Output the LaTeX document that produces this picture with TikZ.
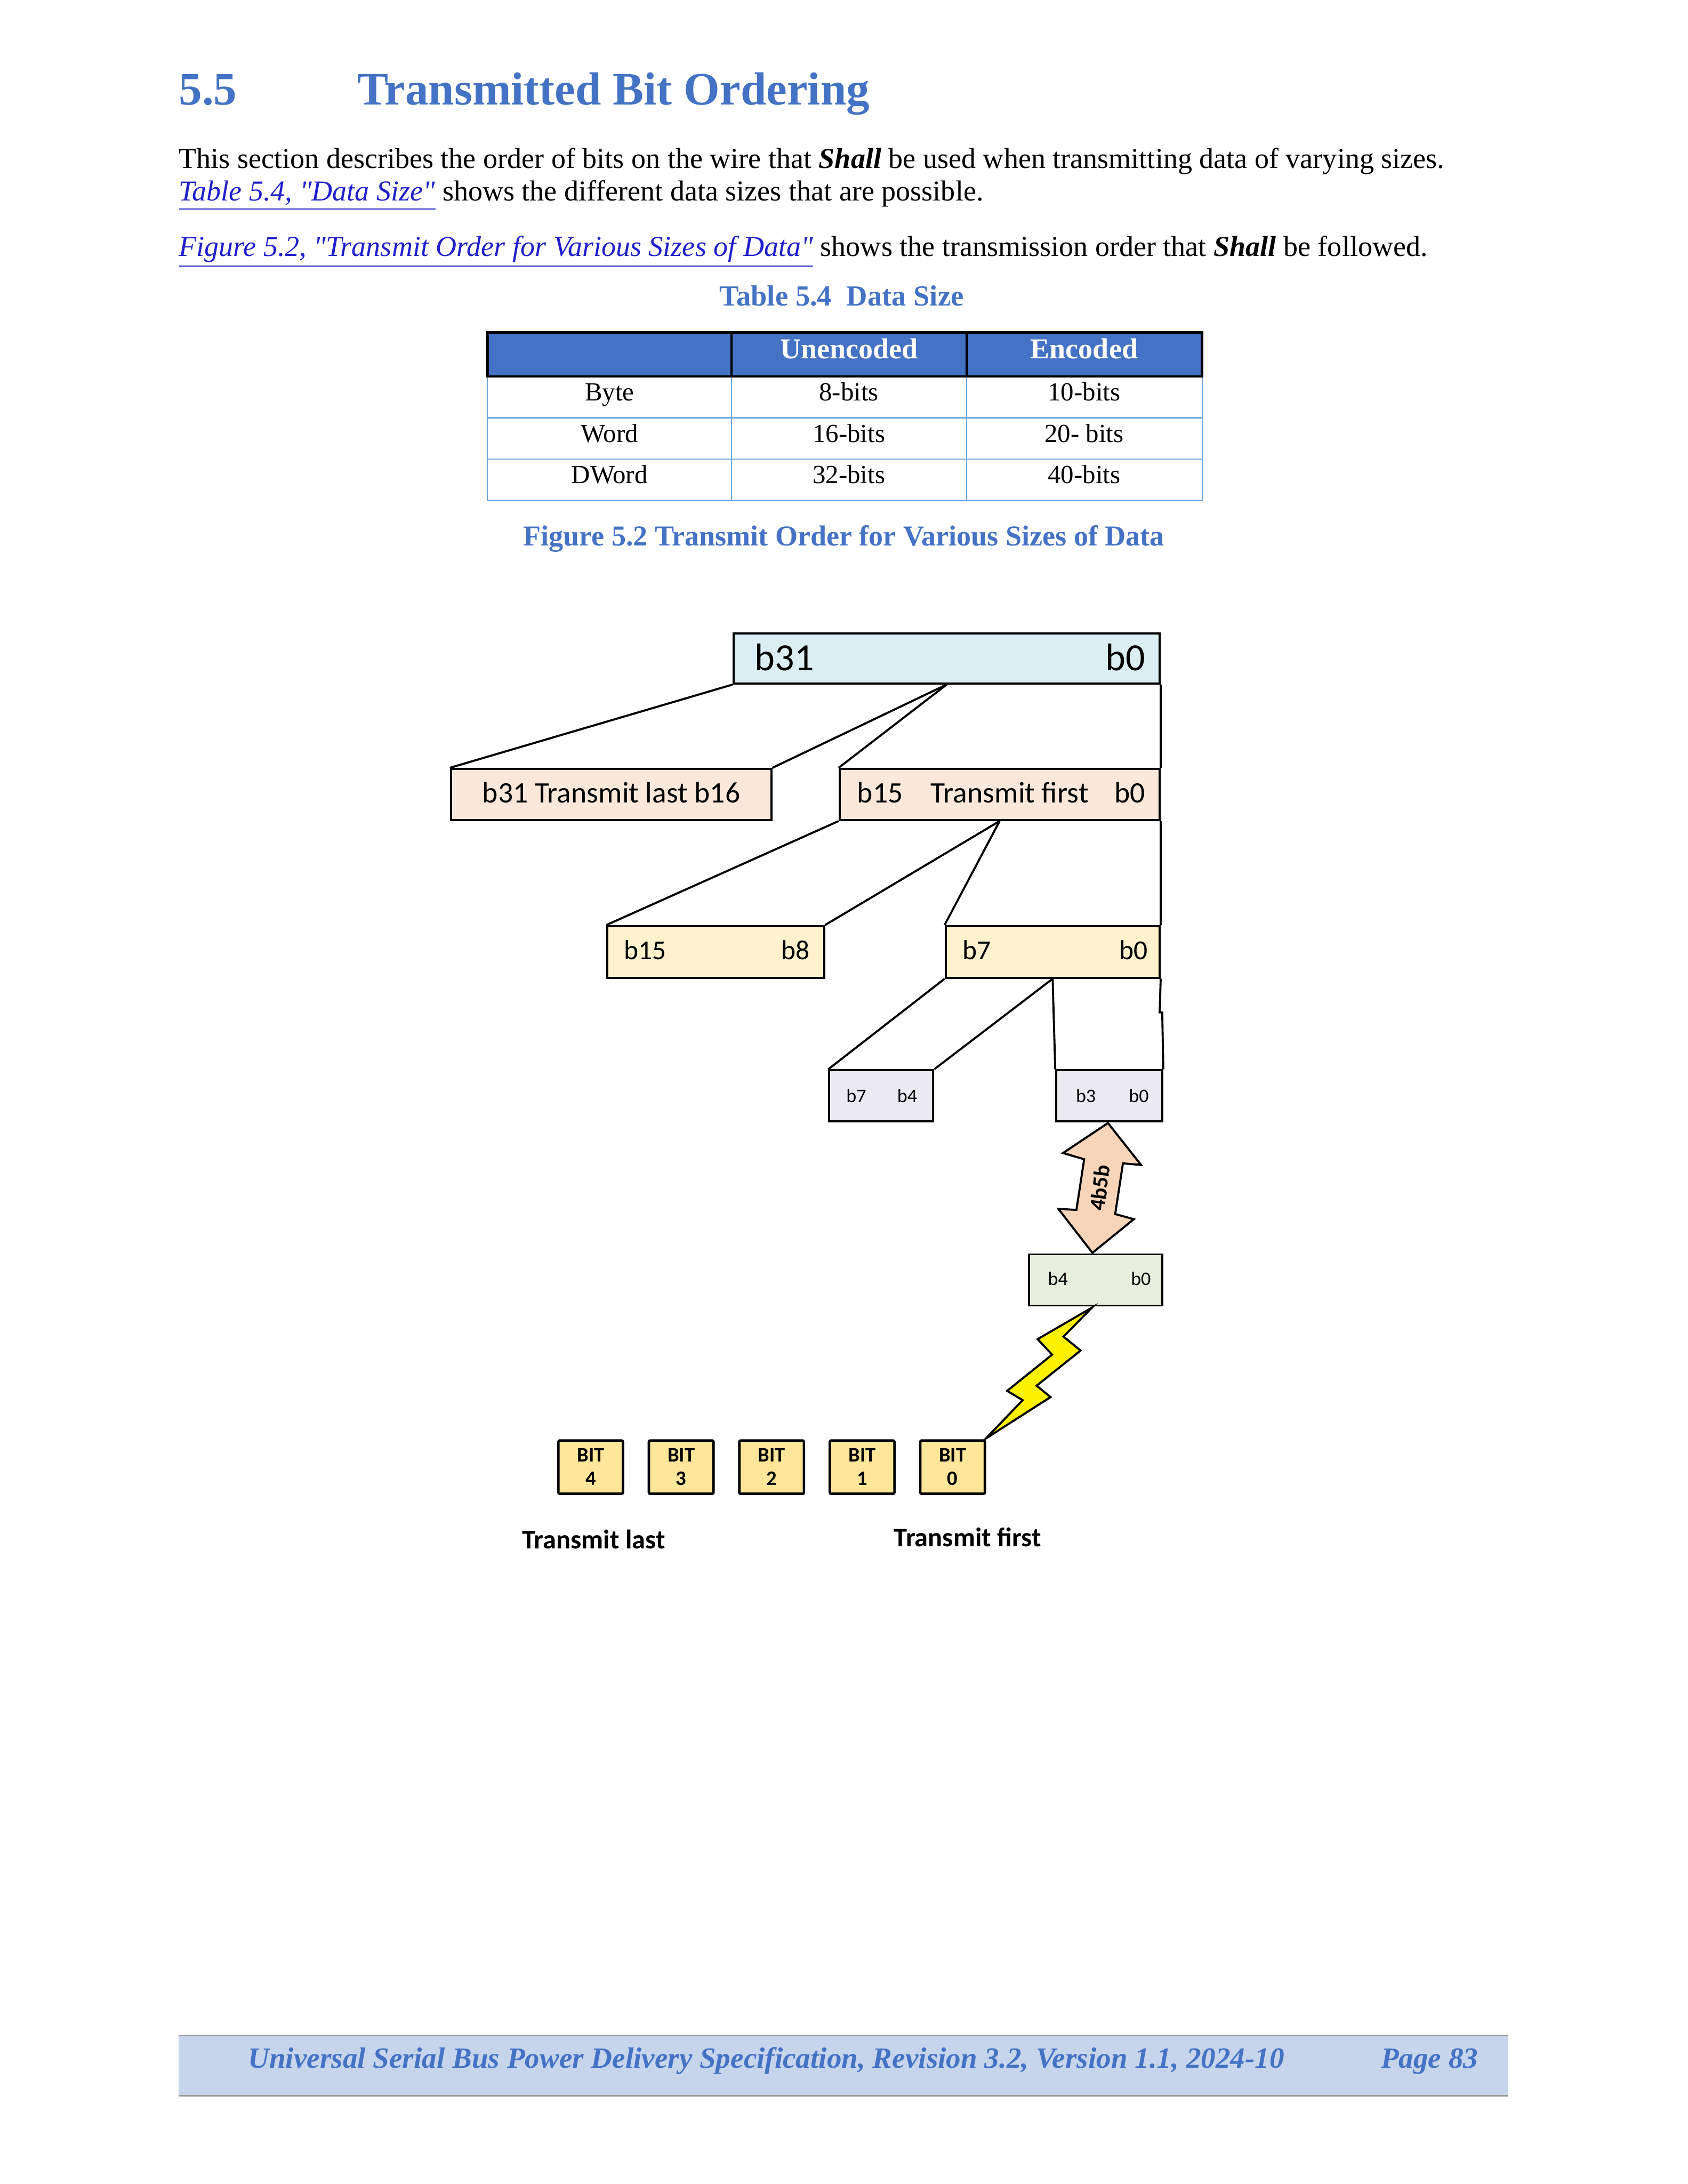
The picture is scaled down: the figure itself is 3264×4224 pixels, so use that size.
\documentclass[tikz,border=0pt]{standalone}
\usepackage{fontspec}
\setmainfont{Liberation Serif}[Ligatures=TeXOff]
\newfontfamily\calfont{Carlito}
\usetikzlibrary{fit}
\definecolor{hblue}{HTML}{4472C4}
\definecolor{lnk}{HTML}{1F1FCC}
\definecolor{topblue}{HTML}{DAEEF3}
\definecolor{peach}{HTML}{FBE8DA}
\definecolor{cream}{HTML}{FFF2CC}
\definecolor{lav}{HTML}{EBE9F1}
\definecolor{pgreen}{HTML}{E6EEDC}
\definecolor{arrowc}{HTML}{F8D5B9}
\definecolor{bitc}{HTML}{FFE699}
\definecolor{gridc}{HTML}{6FA8DC}
\definecolor{footc}{HTML}{C6D5EC}
\begin{document}
\begin{tikzpicture}[x=0.18821pt,y=-0.18821pt,
  box/.style={draw, line width=0.75pt, inner sep=0pt},
  conn/.style={line width=0.75pt},
  txt/.style={inner sep=0pt, anchor=base west},
  txe/.style={inner sep=0pt, anchor=base east},
  txc/.style={inner sep=0pt, anchor=base},
  bodyf/.style={font=\fontsize{10.5}{12}\selectfont},
  capf/.style={font=\fontsize{10.6}{12}\selectfont\bfseries, text=hblue},
  cellf/.style={font=\fontsize{9.5}{12}\selectfont},
  d14/.style={font=\calfont\fontsize{14}{16}\selectfont},
  d11/.style={font=\calfont\fontsize{10.8}{13}\selectfont},
  d10/.style={font=\calfont\fontsize{10}{12}\selectfont},
  d7/.style={font=\calfont\fontsize{7}{8}\selectfont},
  bitf/.style={font=\calfont\bfseries\fontsize{7.5}{8}\selectfont},
  tf/.style={font=\calfont\bfseries\fontsize{9.8}{12}\selectfont}]
\fill[white] (0,0) rectangle (3264,4224);
\useasboundingbox (0,0) rectangle (3264,4224);

% heading
\node[txt, font=\fontsize{16.9}{20}\selectfont\bfseries, text=hblue] (secnum) at (345,203) {5.5};
\node[txt, font=\fontsize{16.9}{20}\selectfont\bfseries, text=hblue] (sectitle) at (690,203) {Transmitted Bit Ordering};

% body
\node[txt, bodyf] (p1) at (345,325) {This section describes the order of bits on the wire that \textbf{\textit{Shall}} be used when transmitting data of varying sizes.};
\node[txt, bodyf] (p2) at (345,388) {{\color{lnk}\underline{\textit{Table 5.4, "Data Size"}}} shows the different data sizes that are possible.};
\node[txt, bodyf] (p3) at (345,495) {{\color{lnk}\underline{\textit{Figure 5.2, "Transmit Order for Various Sizes of Data"}}} shows the transmission order that \textbf{\textit{Shall}} be followed.};

% table
\node[txc, capf] (tcap) at (1628,591) {Table 5.4\enspace Data Size};
\fill[hblue] (943,643) rectangle (2325,728);
\draw[gridc, line width=0.4pt] (943,728) -- (943,968) (1415,728) -- (1415,968) (1870,728) -- (1870,968) (2325,728) -- (2325,968)
  (943,808) -- (2325,808) (943,888) -- (2325,888) (943,968) -- (2325,968);
\draw[line width=0.9pt] (943,643) rectangle (2325,728) (1415,643) -- (1415,728) (1870,643) -- (1870,728);
\node[txc, font=\fontsize{10.5}{12}\selectfont\bfseries, text=white] (h2) at (1642,693) {Unencoded};
\node[txc, font=\fontsize{10.5}{12}\selectfont\bfseries, text=white] (h3) at (2097,693) {Encoded};
\node[txc, cellf] (r1a) at (1179,775) {Byte};
\node[txc, cellf] (r1b) at (1642,775) {8-bits};
\node[txc, cellf] (r1c) at (2097,775) {10-bits};
\node[txc, cellf] (r2a) at (1179,855) {Word};
\node[txc, cellf] (r2b) at (1642,855) {16-bits};
\node[txc, cellf] (r2c) at (2097,855) {20- bits};
\node[txc, cellf] (r3a) at (1179,935) {DWord};
\node[txc, cellf] (r3b) at (1642,935) {32-bits};
\node[txc, cellf] (r3c) at (2097,935) {40-bits};

\node[txc, font=\fontsize{10.5}{12}\selectfont\bfseries, text=hblue] (fcap) at (1632,1055) {Figure 5.2 Transmit Order for Various Sizes of Data};

% diagram boxes
\node[box, fill=topblue, fit={(1419,1225)(2243,1322)}] (top) {};
\node[box, fill=peach, fit={(872,1487)(1492,1586)}] (hi16) {};
\node[box, fill=peach, fit={(1624,1487)(2243,1586)}] (lo16) {};
\node[box, fill=cream, fit={(1175,1791)(1594,1891)}] (hi8) {};
\node[box, fill=cream, fit={(1829,1791)(2243,1891)}] (lo8) {};
\node[box, fill=lav, fit={(1604,2070)(1805,2169)}] (hi4) {};
\node[box, fill=lav, fit={(2043,2070)(2248,2169)}] (lo4) {};
\node[box, fill=pgreen, fit={(1990,2426)(2248,2525)}] (enc) {};

% connectors
\draw[conn] (top.south west) -- (hi16.north west);
\draw[conn] (top.south) -- (hi16.north east);
\draw[conn] (top.south) -- (lo16.north west);
\draw[conn] (top.south east) -- (lo16.north east);
\draw[conn] (lo16.south west) -- (hi8.north west);
\draw[conn] (lo16.south) -- (hi8.north east);
\draw[conn] (lo16.south) -- (lo8.north west);
\draw[conn] (lo16.south east) -- (lo8.north east);
\draw[conn] (lo8.south west) -- (hi4.north west);
\draw[conn] (lo8.south) -- (hi4.north east);
\draw[conn] (lo8.south) -- (lo4.north west);
\coordinate (jog) at (2243,1958);
\draw[conn] (lo8.south east) -- (jog) -- ++(5,0) -- (lo4.north east);

% labels in boxes
\node[txt, d14] (t31) at (1459,1297) {b31};
\node[txe, d14] (t0) at (2216,1297) {b0};
\node[txt, d11] (thi16) at (932,1553) {b31 Transmit last b16};
\node[txt, d11] (tlo16a) at (1657,1553) {b15};
\node[txc, d11] (tlo16b) at (1953,1553) {Transmit first};
\node[txe, d11] (tlo16c) at (2216,1553) {b0};
\node[txt, d10] (thi8a) at (1206,1856) {b15};
\node[txe, d10] (thi8b) at (1567,1856) {b8};
\node[txt, d10] (tlo8a) at (1861,1856) {b7};
\node[txe, d10] (tlo8b) at (2221,1856) {b0};
\node[txt, d7] (thi4a) at (1636,2132) {b7};
\node[txe, d7] (thi4b) at (1775,2132) {b4};
\node[txt, d7] (tlo4a) at (2080,2132) {b3};
\node[txe, d7] (tlo4b) at (2223,2132) {b0};
\node[txt, d7] (tenca) at (2026,2486) {b4};
\node[txe, d7] (tencb) at (2227,2486) {b0};

% 4b5b double arrow
\draw[conn, fill=arrowc, line join=miter]
  (2143,2172) -- (2207,2253) -- (2172,2250) -- (2157,2348) -- (2193,2358) -- (2113,2423)
  -- (2047,2338) -- (2082,2340) -- (2097,2242) -- (2056,2230) -- cycle;
\node[inner sep=0pt, rotate=83, font=\calfont\bfseries\fontsize{8}{9}\selectfont] (enc4b5b) at (2127,2297) {4b5b};

% lightning bolt
\draw[conn, fill=yellow, line join=miter]
  (2112,2529) -- (2007,2590) -- (2035,2620) -- (1948,2690) -- (1978,2708) -- (1907,2782)
  -- (2032,2702) -- (2005,2680) -- (2090,2612) -- (2057,2585) -- cycle;

% bit boxes
\foreach \i/\n in {0/4,1/3,2/2,3/1,4/0}{
  \pgfmathsetmacro{\xl}{1080+175*\i}
  \pgfmathsetmacro{\xr}{1205+175*\i}
  \pgfmathsetmacro{\xc}{1142.5+175*\i}
  \node[box, line width=0.9pt, fill=bitc, rounded corners=0.5pt, fit={(\xl,2786)(\xr,2889)}] (bit\n) {};
  \node[txc, bitf] (bitw\n) at (\xc,2827) {BIT};
  \node[txc, bitf] (bitn\n) at (\xc,2872) {\n};
}
\node[txt, tf] (tlast) at (1009,2995) {Transmit last};
\node[txt, tf] (tfirst) at (1728,2991) {Transmit first};

% footer
\fill[footc] (345,3937) rectangle (2917,4053);
\draw[gray!80, line width=0.6pt] (345,3937) -- (2917,3937) (345,4053) -- (2917,4053);
\node[txt, font=\fontsize{10.7}{12}\selectfont\bfseries\itshape, text=hblue] (foot1) at (479,4000) {Universal Serial Bus Power Delivery Specification, Revision 3.2, Version 1.1, 2024-10};
\node[txe, font=\fontsize{10.7}{12}\selectfont\bfseries\itshape, text=hblue] (foot2) at (2860,4000) {Page 83};
\end{tikzpicture}
\end{document}
